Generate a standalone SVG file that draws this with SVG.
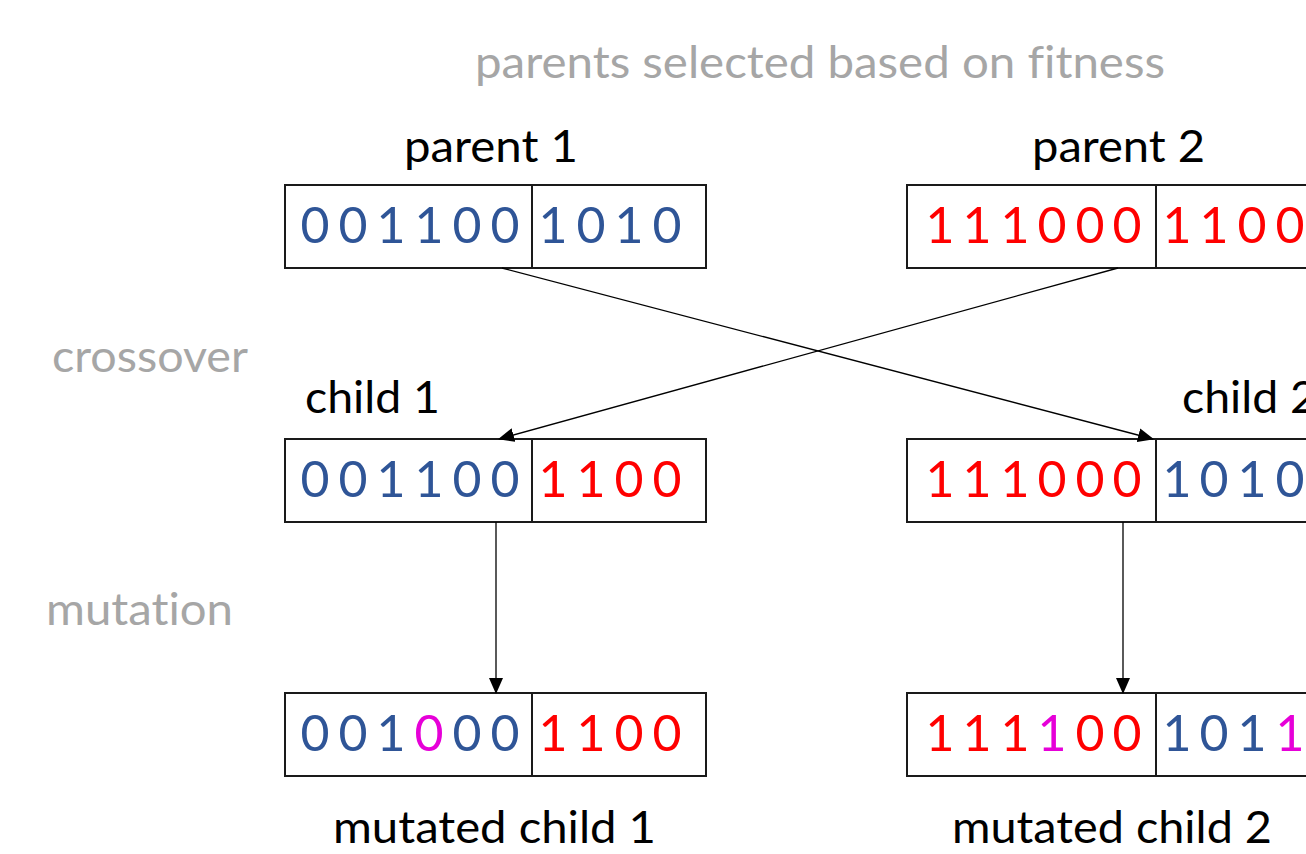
<svg xmlns="http://www.w3.org/2000/svg" width="1306" height="854" viewBox="0 0 1306 854">
<defs>
<marker id="ah" markerUnits="userSpaceOnUse" markerWidth="16" markerHeight="14" refX="15" refY="7" orient="auto">
<path d="M0,0 L16,7 L0,14 Z" fill="#000"/>
</marker>
<style>
text{font-variant-ligatures:none;font-feature-settings:"liga" 0}
.box{fill:#fff;stroke:#1a1a1a;stroke-width:2}
.div{stroke:#1a1a1a;stroke-width:2}
.d{font-family:Lato,"Open Sans","Liberation Sans",sans-serif;font-size:50px;text-anchor:middle}
.b{fill:#2F5597}
.r{fill:#FF0000}
.m{fill:#E600D8}
.lbl{font-family:Lato,"Open Sans","Liberation Sans",sans-serif;font-size:44px;fill:#000}
.gray{font-family:Lato,"Open Sans","Liberation Sans",sans-serif;font-size:44px;fill:#A6A6A6}
.conn{stroke:#000;stroke-width:1.3;fill:none}
</style>
</defs>
<rect width="1306" height="854" fill="#fff"/>

<text class="gray" x="475" y="78" textLength="690" lengthAdjust="spacingAndGlyphs">parents selected based on fitness</text>
<text class="gray" x="52" y="372" textLength="196" lengthAdjust="spacingAndGlyphs">crossover</text>
<text class="gray" x="46" y="625" textLength="187" lengthAdjust="spacingAndGlyphs">mutation</text>

<g id="parent1">
<text class="lbl" x="404" y="162" textLength="174" lengthAdjust="spacingAndGlyphs">parent 1</text>
<rect class="box" x="285" y="185" width="421" height="83"/>
<line class="div" x1="532" y1="185" x2="532" y2="268"/>
<g class="d b"><text x="315" y="243">0</text><text x="353" y="243">0</text><text x="391" y="243">1</text><text x="429" y="243">1</text><text x="467" y="243">0</text><text x="505" y="243">0</text>
<text x="553" y="243">1</text><text x="591" y="243">0</text><text x="629" y="243">1</text><text x="667" y="243">0</text></g>
</g>

<g id="parent2">
<text class="lbl" x="1032" y="162" textLength="173" lengthAdjust="spacingAndGlyphs">parent 2</text>
<rect class="box" x="907" y="185" width="500" height="83"/>
<line class="div" x1="1156" y1="185" x2="1156" y2="268"/>
<g class="d r"><text x="940" y="243">1</text><text x="977" y="243">1</text><text x="1015" y="243">1</text><text x="1052" y="243">0</text><text x="1090" y="243">0</text><text x="1127" y="243">0</text>
<text x="1177" y="243">1</text><text x="1214" y="243">1</text><text x="1252" y="243">0</text><text x="1290" y="243">0</text></g>
</g>

<g id="child1">
<text class="lbl" x="305" y="413" textLength="135" lengthAdjust="spacingAndGlyphs">child 1</text>
<rect class="box" x="285" y="439" width="421" height="83"/>
<line class="div" x1="532" y1="439" x2="532" y2="522"/>
<g class="d b"><text x="315" y="497">0</text><text x="353" y="497">0</text><text x="391" y="497">1</text><text x="429" y="497">1</text><text x="467" y="497">0</text><text x="505" y="497">0</text></g>
<g class="d r"><text x="553" y="497">1</text><text x="591" y="497">1</text><text x="629" y="497">0</text><text x="667" y="497">0</text></g>
</g>

<g id="child2">
<text class="lbl" x="1182" y="413" textLength="135" lengthAdjust="spacingAndGlyphs">child 2</text>
<rect class="box" x="907" y="439" width="500" height="83"/>
<line class="div" x1="1156" y1="439" x2="1156" y2="522"/>
<g class="d r"><text x="940" y="497">1</text><text x="977" y="497">1</text><text x="1015" y="497">1</text><text x="1052" y="497">0</text><text x="1090" y="497">0</text><text x="1127" y="497">0</text></g>
<g class="d b"><text x="1177" y="497">1</text><text x="1214" y="497">0</text><text x="1252" y="497">1</text><text x="1290" y="497">0</text></g>
</g>

<g id="mutated1">
<rect class="box" x="285" y="693" width="421" height="83"/>
<line class="div" x1="532" y1="693" x2="532" y2="776"/>
<g class="d b"><text x="315" y="751">0</text><text x="353" y="751">0</text><text x="391" y="751">1</text><text x="467" y="751">0</text><text x="505" y="751">0</text></g>
<text class="d m" x="429" y="751">0</text>
<g class="d r"><text x="553" y="751">1</text><text x="591" y="751">1</text><text x="629" y="751">0</text><text x="667" y="751">0</text></g>
<text class="lbl" x="333" y="843" textLength="323" lengthAdjust="spacingAndGlyphs">mutated child 1</text>
</g>

<g id="mutated2">
<rect class="box" x="907" y="693" width="500" height="83"/>
<line class="div" x1="1156" y1="693" x2="1156" y2="776"/>
<g class="d r"><text x="940" y="751">1</text><text x="977" y="751">1</text><text x="1015" y="751">1</text><text x="1090" y="751">0</text><text x="1127" y="751">0</text></g>
<text class="d m" x="1052" y="751">1</text>
<g class="d b"><text x="1177" y="751">1</text><text x="1214" y="751">0</text><text x="1252" y="751">1</text></g>
<text class="d m" x="1290" y="751">1</text>
<text class="lbl" x="952" y="843" textLength="320" lengthAdjust="spacingAndGlyphs">mutated child 2</text>
</g>

<g id="connectors">
<line class="conn" x1="502" y1="268" x2="1153" y2="439" marker-end="url(#ah)"/>
<line class="conn" x1="1118" y1="268" x2="499" y2="439" marker-end="url(#ah)"/>
<line class="conn" x1="496" y1="522" x2="496" y2="693" marker-end="url(#ah)"/>
<line class="conn" x1="1123" y1="522" x2="1123" y2="693" marker-end="url(#ah)"/>
</g>
</svg>
